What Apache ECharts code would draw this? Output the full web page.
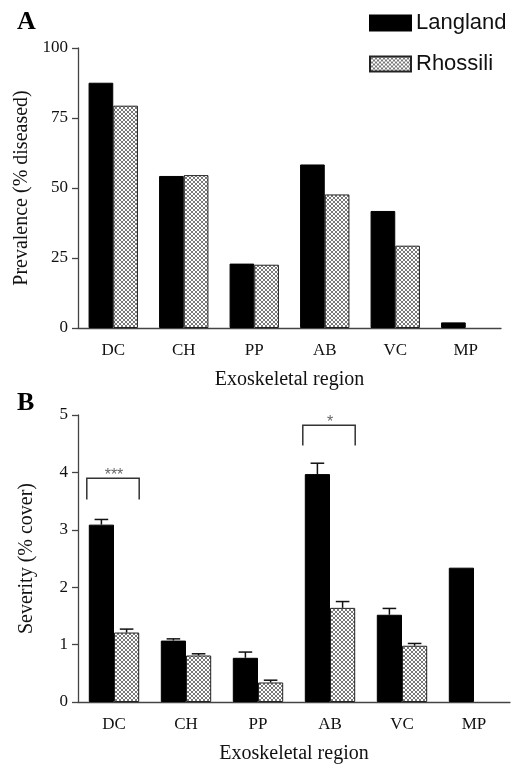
<!DOCTYPE html>
<html>
<head>
<meta charset="utf-8">
<script src="https://cdn.jsdelivr.net/npm/echarts@6/dist/echarts.min.js"></script>
<style>
html,body{margin:0;padding:0;background:#fff;}
#main{width:511px;height:765px;}
</style>
</head>
<body>
<div id="main"></div>
<script>
// ---- data ----
const categories = ['DC', 'CH', 'PP', 'AB', 'VC', 'MP'];
const seriesNames = ['Langland', 'Rhossili'];
const prevalenceLangland = [87.6, 54.3, 23.0, 58.4, 41.8, 2.0];
const prevalenceRhossili = [79.4, 54.6, 22.6, 47.7, 29.4, null];
const severityLangland = [3.09, 1.07, 0.77, 3.97, 1.52, 2.34];
const severityRhossili = [1.21, 0.81, 0.34, 1.64, 0.98, null];
const severityLanglandErr = [0.09, 0.03, 0.10, 0.19, 0.11, null];
const severityRhossiliErr = [0.06, 0.03, 0.04, 0.11, 0.04, null];
// significance brackets: [category index, bracket top, leg bottom, label]
const sigCategory = [0, 3];
const sigTop = [3.90, 4.82];
const sigLeg = [3.53, 4.47];
const sigLabel = ['***', '*'];
const prevalenceTicks = {min: 0, max: 100, interval: 25};
const severityTicks = {min: 0, max: 5, interval: 1};

// ---- styles ----
const serif = 'Liberation Serif';
const sans = 'Liberation Sans';
const axisColor = '#444';

function makePattern() {
  const c = document.createElement('canvas');
  c.width = 4; c.height = 4;
  const ctx = c.getContext('2d');
  ctx.fillStyle = '#ffffff';
  ctx.fillRect(0, 0, 4, 4);
  ctx.strokeStyle = '#7a7a7a';
  ctx.lineWidth = 1;
  ctx.beginPath();
  ctx.moveTo(0, 0); ctx.lineTo(4, 4);
  ctx.moveTo(4, 0); ctx.lineTo(0, 4);
  ctx.stroke();
  return c;
}
const hatch = {image: makePattern(), repeat: 'repeat'};

const GAP = 0.30; // barCategoryGap fraction

function errorRender(side) {
  return function (params, api) {
    const cat = api.value(0);
    const top = api.value(1);
    const mean = api.value(2);
    const band = api.size([1, 0])[0];
    const bw = band * (1 - GAP) / 2;
    const c = api.coord([cat, mean]);
    const t = api.coord([cat, top]);
    const cx = c[0] + (side === 0 ? -bw / 2 : bw / 2);
    const half = bw * 0.27;
    const style = {stroke: '#111', lineWidth: 1.5, fill: null};
    return {
      type: 'group',
      children: [
        {type: 'line', shape: {x1: cx, y1: c[1], x2: cx, y2: t[1]}, style: style},
        {type: 'line', shape: {x1: cx - half, y1: t[1], x2: cx + half, y2: t[1]}, style: style}
      ]
    };
  };
}

function bracketRender(params, api) {
  const cat = api.value(0);
  const band = api.size([1, 0])[0];
  const bw = band * (1 - GAP) / 2;
  const t = api.coord([cat, api.value(1)]);
  const l = api.coord([cat, api.value(2)]);
  const x1 = t[0] - bw - 2, x2 = t[0] + bw;
  return {
    type: 'group',
    children: [
      {type: 'polyline', shape: {points: [[x1, l[1]], [x1, t[1]], [x2, t[1]], [x2, l[1]]]},
        style: {stroke: '#333', lineWidth: 1.5, fill: null}},
      {type: 'text', x: t[0], y: t[1] - 3,
        style: {text: sigLabel[params.dataIndex], fill: '#666', font: '16px ' + sans,
          align: 'center', verticalAlign: 'middle'}}
    ]
  };
}

function xAxisCfg(gridIndex) {
  return {
    type: 'category', gridIndex: gridIndex, data: categories,
    name: 'Exoskeletal region', nameLocation: 'middle', nameGap: 42,
    nameTextStyle: {fontFamily: serif, fontSize: 20, color: '#111'},
    axisLine: {lineStyle: {color: axisColor, width: 1.3}},
    axisTick: {show: false},
    axisLabel: {fontFamily: serif, fontSize: 17, color: '#111', margin: 14}
  };
}
function yAxisCfg(gridIndex, ticks, name, gap) {
  return {
    type: 'value', gridIndex: gridIndex, min: ticks.min, max: ticks.max, interval: ticks.interval,
    name: name, nameLocation: 'middle', nameGap: gap,
    nameTextStyle: {fontFamily: serif, fontSize: 20, color: '#111'},
    splitLine: {show: false},
    axisLine: {show: true, lineStyle: {color: axisColor, width: 1.3}},
    axisTick: {show: true, length: 6, lineStyle: {color: axisColor, width: 1.3}},
    axisLabel: {fontFamily: serif, fontSize: 17, color: '#111', margin: 10}
  };
}

const barBase = {type: 'bar', barGap: '0%', barCategoryGap: (GAP * 100) + '%'};
const langStyle = {color: '#000', borderColor: '#000', borderWidth: 1};
const rhoStyle = {color: hatch, borderColor: '#222', borderWidth: 1};

const option = {
  animation: false,
  backgroundColor: '#fff',
  legend: {
    orient: 'vertical', left: 369, top: 12, padding: 0,
    itemWidth: 41, itemHeight: 15, itemGap: 19,
    icon: 'rect',
    data: seriesNames,
    textStyle: {fontFamily: sans, fontSize: 22, color: '#111', lineHeight: 15}
  },
  graphic: [
    {type: 'text', left: 17, top: 9, style: {text: 'A', font: 'bold 26px ' + serif, fill: '#000'}},
    {type: 'text', left: 17, top: 390, style: {text: 'B', font: 'bold 26px ' + serif, fill: '#000'}}
  ],
  grid: [
    {left: 78, right: 10, top: 48, height: 280},
    {left: 78, right: 1, top: 415, height: 287}
  ],
  xAxis: [xAxisCfg(0), xAxisCfg(1)],
  yAxis: [
    yAxisCfg(0, prevalenceTicks, 'Prevalence (% diseased)', 45),
    yAxisCfg(1, severityTicks, 'Severity (% cover)', 41)
  ],
  series: [
    Object.assign({}, barBase, {name: seriesNames[0], xAxisIndex: 0, yAxisIndex: 0,
      data: prevalenceLangland, itemStyle: langStyle}),
    Object.assign({}, barBase, {name: seriesNames[1], xAxisIndex: 0, yAxisIndex: 0,
      data: prevalenceRhossili, itemStyle: rhoStyle}),
    Object.assign({}, barBase, {name: seriesNames[0], xAxisIndex: 1, yAxisIndex: 1,
      data: severityLangland, itemStyle: langStyle}),
    Object.assign({}, barBase, {name: seriesNames[1], xAxisIndex: 1, yAxisIndex: 1,
      data: severityRhossili, itemStyle: rhoStyle}),
    {type: 'custom', xAxisIndex: 1, yAxisIndex: 1, renderItem: errorRender(0), z: 5,
      data: severityLangland.map((v, i) => severityLanglandErr[i] == null ? null : [i, v + severityLanglandErr[i], v]).filter(d => d)},
    {type: 'custom', xAxisIndex: 1, yAxisIndex: 1, renderItem: errorRender(1), z: 5,
      data: severityRhossili.map((v, i) => severityRhossiliErr[i] == null ? null : [i, v + severityRhossiliErr[i], v]).filter(d => d)},
    {type: 'custom', xAxisIndex: 1, yAxisIndex: 1, renderItem: bracketRender, z: 5,
      data: sigCategory.map((c, i) => [c, sigTop[i], sigLeg[i]])}
  ]
};

const chart = echarts.init(document.getElementById('main'), null, {renderer: 'canvas'});
chart.setOption(option);
</script>
</body>
</html>
